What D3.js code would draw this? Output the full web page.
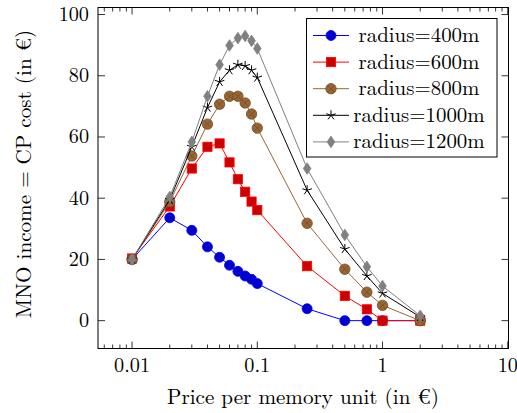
<!DOCTYPE html>
<html>
<head>
<meta charset="utf-8">
<script src="https://cdn.jsdelivr.net/npm/d3@7"></script>
<style>
  body { margin: 0; background: #fff; }
  svg { display: block; }
</style>
</head>
<body>
<svg id="chart" width="517" height="413"></svg>
<script>
// prices (x) shared by all series
var prices = [0.01, 0.02, 0.03, 0.04, 0.05, 0.06, 0.07, 0.08, 0.09, 0.1, 0.25, 0.5, 0.75, 1, 2];

var r400  = [20.0, 33.6, 29.5, 24.1, 20.7, 18.1, 16.1, 14.6, 13.5, 12.1, 3.9, 0, 0, 0, 0];
var r600  = [20.3, 37.3, 49.7, 56.8, 57.9, 51.7, 46.2, 42.1, 38.9, 36.1, 17.8, 8.1, 3.7, 0, 0];
var r800  = [20.0, 38.8, 53.8, 64.2, 70.7, 73.3, 73.3, 71.1, 67.5, 62.9, 31.8, 16.8, 9.3, 5.0, 0];
var r1000 = [20.0, 39.5, 56.8, 69.6, 78.0, 81.8, 83.6, 83.2, 81.8, 79.4, 42.6, 23.4, 14.6, 8.9, 1.2];
var r1200 = [20.0, 40.4, 58.4, 73.3, 83.6, 89.9, 92.3, 93.0, 91.4, 88.9, 49.7, 28.0, 17.6, 11.3, 1.6];

var seriesNames = ["radius=400m", "radius=600m", "radius=800m", "radius=1000m", "radius=1200m"];
var seriesValues = [r400, r600, r800, r1000, r1200];

var xTicks = [0.01, 0.1, 1, 10];
var yTicks = [0, 20, 40, 60, 80, 100];

// style per series: line colour, mark fill, mark stroke, mark type
var styles = [
  { line: "#0000ff", fill: "#0000cc", stroke: "#0000ff", mark: "circle" },
  { line: "#ff0000", fill: "#cc0000", stroke: "#ff0000", mark: "square" },
  { line: "#996633", fill: "#996633", stroke: "#734d26", mark: "otimes" },
  { line: "#000000", fill: "none",    stroke: "#000000", mark: "star" },
  { line: "#808080", fill: "#808080", stroke: "#808080", mark: "diamond" }
];

var FONT = "'Latin Modern Roman', 'Liberation Serif', serif";

var svg = d3.select("#chart");
var pLeft = 98, pRight = 508.5, pTop = 7.5, pBottom = 348.5;

var x = d3.scaleLog().domain([Math.pow(10, -2.272), Math.pow(10, 1.006)]).range([pLeft, pRight]);
var y = d3.scaleLinear().domain([-9.1, 102.3]).range([pBottom, pTop]);

var g = svg.append("g");

// pick a font size so that a sample string has the width seen in the picture
function fitSize(sample, width) {
  var t = svg.append("text").attr("font-family", FONT).attr("font-size", 20).text(sample);
  var w = t.node().getComputedTextLength();
  t.remove();
  return w > 0 ? 20 * width / w : 20;
}
var tickSize = fitSize("0.01", 36);
var labelSize = fitSize("Price per memory unit (in €)", 272);
var legendSize = fitSize("radius=400m", 121);

// ticks (inward, all four sides)
var minor = [];
[0.001, 0.01, 0.1, 1].forEach(function(d) {
  for (var k = 2; k <= 9; k++) {
    var v = d * k;
    if (v > x.domain()[0] && v < x.domain()[1]) minor.push(v);
  }
});

var tickG = g.append("g").attr("stroke", "#000").attr("stroke-width", 0.8);
xTicks.forEach(function(t) {
  var px = x(t);
  tickG.append("line").attr("x1", px).attr("x2", px).attr("y1", pBottom).attr("y2", pBottom - 7);
  tickG.append("line").attr("x1", px).attr("x2", px).attr("y1", pTop).attr("y2", pTop + 7);
});
minor.forEach(function(t) {
  var px = x(t);
  tickG.append("line").attr("x1", px).attr("x2", px).attr("y1", pBottom).attr("y2", pBottom - 4);
  tickG.append("line").attr("x1", px).attr("x2", px).attr("y1", pTop).attr("y2", pTop + 4);
});
yTicks.forEach(function(t) {
  var py = y(t);
  tickG.append("line").attr("x1", pLeft).attr("x2", pLeft + 7).attr("y1", py).attr("y2", py);
  tickG.append("line").attr("x1", pRight).attr("x2", pRight - 7).attr("y1", py).attr("y2", py);
});

// tick labels
g.selectAll(".xl").data(xTicks).enter().append("text")
  .attr("font-family", FONT).attr("font-size", tickSize)
  .attr("x", function(d) { return x(d); })
  .attr("y", 372)
  .attr("text-anchor", "middle")
  .text(function(d) { return String(d); });

g.selectAll(".yl").data(yTicks).enter().append("text")
  .attr("font-family", FONT).attr("font-size", tickSize)
  .attr("x", 89)
  .attr("y", function(d) { return y(d) + 6.5; })
  .attr("text-anchor", "end")
  .text(function(d) { return d; });

// axis titles
g.append("text").attr("font-family", FONT).attr("font-size", labelSize)
  .attr("x", 303).attr("y", 404).attr("text-anchor", "middle")
  .text("Price per memory unit (in €)");
g.append("text").attr("font-family", FONT).attr("font-size", labelSize)
  .attr("transform", "translate(31,174) rotate(-90)").attr("text-anchor", "middle")
  .text("MNO income = CP cost (in €)");

// marks
function drawMark(sel, st, cx, cy) {
  if (st.mark === "circle") {
    sel.append("circle").attr("cx", cx).attr("cy", cy).attr("r", 5)
      .attr("fill", st.fill).attr("stroke", st.stroke).attr("stroke-width", 0.8);
  } else if (st.mark === "square") {
    sel.append("rect").attr("x", cx - 4.6).attr("y", cy - 4.6).attr("width", 9.2).attr("height", 9.2)
      .attr("fill", st.fill).attr("stroke", st.stroke).attr("stroke-width", 0.8);
  } else if (st.mark === "otimes") {
    var r = 5.2, d = r * Math.SQRT1_2;
    sel.append("circle").attr("cx", cx).attr("cy", cy).attr("r", r)
      .attr("fill", st.fill).attr("stroke", st.stroke).attr("stroke-width", 0.8);
    sel.append("path")
      .attr("d", "M" + (cx - d) + "," + (cy - d) + "L" + (cx + d) + "," + (cy + d) +
                 "M" + (cx - d) + "," + (cy + d) + "L" + (cx + d) + "," + (cy - d))
      .attr("stroke", st.stroke).attr("stroke-width", 0.8);
  } else if (st.mark === "star") {
    var p = "";
    for (var i = 0; i < 5; i++) {
      var a = -Math.PI / 2 + i * 2 * Math.PI / 5;
      p += "M" + cx + "," + cy + "L" + (cx + 5 * Math.cos(a)) + "," + (cy + 5 * Math.sin(a));
    }
    sel.append("path").attr("d", p).attr("stroke", st.stroke).attr("stroke-width", 1).attr("fill", "none");
  } else if (st.mark === "diamond") {
    sel.append("path")
      .attr("d", "M" + cx + "," + (cy - 5.8) + "L" + (cx + 3.8) + "," + cy + "L" + cx + "," + (cy + 5.8) + "L" + (cx - 3.8) + "," + cy + "Z")
      .attr("fill", st.fill).attr("stroke", st.stroke).attr("stroke-width", 0.8);
  }
}

var line = d3.line()
  .x(function(d) { return x(d[0]); })
  .y(function(d) { return y(d[1]); });

var plot = g.append("g");
seriesValues.forEach(function(vals, i) {
  var st = styles[i];
  var pts = prices.map(function(p, j) { return [p, vals[j]]; });
  var sg = plot.append("g");
  sg.append("path").datum(pts).attr("d", line)
    .attr("fill", "none").attr("stroke", st.line).attr("stroke-width", 1);
  pts.forEach(function(pt) { drawMark(sg, st, x(pt[0]), y(pt[1])); });
});

// frame
g.append("rect").attr("x", pLeft).attr("y", pTop).attr("width", pRight - pLeft).attr("height", pBottom - pTop)
  .attr("fill", "none").attr("stroke", "#000").attr("stroke-width", 1);

// legend
var lg = g.append("g");
lg.append("rect").attr("x", 306.5).attr("y", 18.5).attr("width", 190.5).attr("height", 138.5)
  .attr("fill", "#fff").attr("stroke", "#000").attr("stroke-width", 1);
seriesNames.forEach(function(name, i) {
  var ly = 35.5 + i * 26.6;
  var st = styles[i];
  lg.append("line").attr("x1", 313).attr("x2", 349).attr("y1", ly).attr("y2", ly)
    .attr("stroke", st.line).attr("stroke-width", 1);
  drawMark(lg, st, 331, ly);
  lg.append("text").attr("font-family", FONT).attr("font-size", legendSize)
    .attr("x", 419).attr("y", ly + 6.5).attr("text-anchor", "middle")
    .text(name);
});
</script>
</body>
</html>
